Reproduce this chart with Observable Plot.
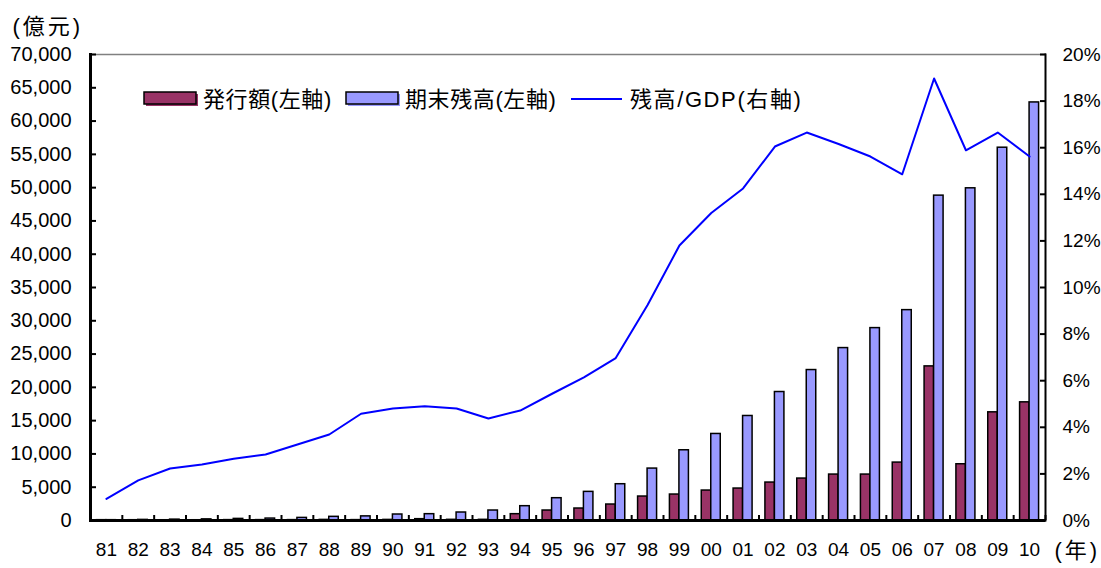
<!DOCTYPE html>
<html><head><meta charset="utf-8">
<script src="https://cdn.jsdelivr.net/npm/d3@7"></script>
<script src="https://cdn.jsdelivr.net/npm/@observablehq/plot@0.6"></script>
<style>
html,body{margin:0;padding:0;background:#fff}
#chart{position:relative;width:1101px;height:568px;overflow:hidden}
</style>
</head><body><div id="chart"></div>
<script>
// ---- data ----
const years = ["81","82","83","84","85","86","87","88","89","90","91","92","93","94","95","96","97","98","99","00","01","02","03","04","05","06","07","08","09","10"];
// 発行額 (億元)
const issuance = [50,45,40,40,60,60,60,90,60,90,200,100,100,950,1500,1800,2400,3600,3900,4500,4800,5700,6300,6900,6900,8700,23150,8450,16250,17750];
// 期末残高 (億元)
const outstanding = [50,90,130,170,240,290,390,550,620,900,950,1200,1500,2150,3350,4300,5450,7800,10550,13000,15700,19300,22600,25900,28900,31600,48800,49900,56000,62800];
// 残高/GDP (%)
const ratio = [0.93,1.72,2.23,2.4,2.65,2.83,3.26,3.69,4.58,4.81,4.9,4.81,4.38,4.72,5.44,6.14,6.97,9.25,11.8,13.2,14.25,16.05,16.65,16.16,15.62,14.86,18.97,15.89,16.65,15.62];
const leftTicks = [0,5000,10000,15000,20000,25000,30000,35000,40000,45000,50000,55000,60000,65000,70000];
const rightTicks = [0,2,4,6,8,10,12,14,16,18,20];
const seriesNames = ["発行額(左軸)", "期末残高(左軸)", "残高/GDP(右軸)"];
const unitLeft = "(億元)";
const unitX = "(年)";

// ---- layout / style ----
const W = 1101, H = 568, mL = 90, mR = 56, mT = 54, mB = 48;
const leftMax = 70000, rightMax = 20;
const K = leftMax / rightMax;
const red = "#993366", blue = "#9999FF", lineBlue = "#0000FF";
const font = "'Liberation Sans', Arial, 'Noto Sans CJK JP', sans-serif";
const bw = (W - mL - mR) / years.length;
const barW = 9.5;

const rows = years.map((y, i) => ({year: y, issuance: issuance[i], outstanding: outstanding[i], ratio: ratio[i]}));
const fmt = d3.format(",");

const plot = Plot.plot({
  width: W, height: H,
  marginLeft: mL, marginRight: mR, marginTop: mT, marginBottom: mB,
  style: {fontFamily: font, fontSize: "20px", color: "#000", background: "#fff", overflow: "visible"},
  x: {type: "band", domain: years, padding: 0, round: false, label: null},
  y: {domain: [0, leftMax], label: null},
  marks: [
    Plot.ruleY([leftMax], {stroke: "#808080", strokeWidth: 1.5}),
    Plot.barY(rows, {x: "year", y: "issuance", fill: red, stroke: "#000", strokeWidth: 1.5, insetLeft: bw / 2 - barW, insetRight: bw / 2}),
    Plot.barY(rows, {x: "year", y: "outstanding", fill: blue, stroke: "#000", strokeWidth: 1.5, insetLeft: bw / 2, insetRight: bw / 2 - barW}),
    Plot.line(rows, {x: "year", y: d => d.ratio * K, stroke: lineBlue, strokeWidth: 2}),
    // left axis
    Plot.axisY({anchor: "left", ticks: leftTicks, tickSize: 0, tickPadding: 19, tickFormat: d => fmt(d), fontSize: 20}),
    Plot.axisY({anchor: "left", ticks: leftTicks, tickSize: 6, dx: 6, strokeWidth: 2, tickFormat: () => ""}),
    // right axis
    Plot.axisY({anchor: "right", ticks: rightTicks.map(v => v * K), tickSize: 0, tickPadding: 17, tickFormat: d => Math.round(d / K) + "%", fontSize: 19}),
    Plot.axisY({anchor: "right", ticks: rightTicks.map(v => v * K), tickSize: 6, dx: -6, strokeWidth: 2, tickFormat: () => ""}),
    // bottom axis
    Plot.axisX({anchor: "bottom", ticks: years, tickSize: 0, tickPadding: 22, fontSize: 19}),
    Plot.axisX({anchor: "bottom", ticks: years, tickSize: 5, dy: -5, dx: bw / 2, strokeWidth: 2, tickFormat: () => ""}),
    Plot.frame({anchor: "left", stroke: "#000", strokeWidth: 3}),
    Plot.frame({anchor: "right", stroke: "#000", strokeWidth: 2}),
    Plot.ruleY([0], {stroke: "#000", strokeWidth: 3}),
    // unit labels
    Plot.text([unitLeft], {frameAnchor: "top-left", text: d => d, dx: -78, dy: -36, textAnchor: "start", fontSize: 22}),
    Plot.text([unitX], {frameAnchor: "bottom-right", text: d => d, dx: 9, dy: 37, textAnchor: "start", fontSize: 22})
  ]
});

document.getElementById("chart").appendChild(plot);

// letter spacing for unit labels
d3.select(plot).selectAll("text").filter(function() { return this.textContent === unitLeft || this.textContent === unitX; })
  .style("letter-spacing", "3px");

// ---- legend (inside the plot area) ----
const svg = d3.select(plot);
const lg = svg.append("g").attr("font-family", font).attr("font-size", 22).attr("text-anchor", "start");
const ly = 99;
const items = [
  {type: "rect", color: red, x: 144, tx: 203, ls: 0.6},
  {type: "rect", color: blue, x: 346, tx: 405, ls: 0.6},
  {type: "line", color: lineBlue, x: 571, tx: 630, ls: 1.6}
];
items.forEach((it, i) => {
  if (it.type === "rect") {
    lg.append("rect").attr("x", it.x + 2).attr("y", ly - 5).attr("width", 52).attr("height", 12).attr("fill", it.color);
    lg.append("rect").attr("x", it.x).attr("y", ly - 7).attr("width", 52).attr("height", 12).attr("fill", it.color).attr("stroke", "#000").attr("stroke-width", 1.5);
  } else {
    lg.append("line").attr("x1", it.x).attr("x2", it.x + 51).attr("y1", ly).attr("y2", ly).attr("stroke", it.color).attr("stroke-width", 2);
  }
  lg.append("text").attr("x", it.tx).attr("y", ly).attr("dy", "0.35em").attr("fill", "#000")
    .style("letter-spacing", it.ls + "px").text(seriesNames[i]);
});
</script>
</body></html>
